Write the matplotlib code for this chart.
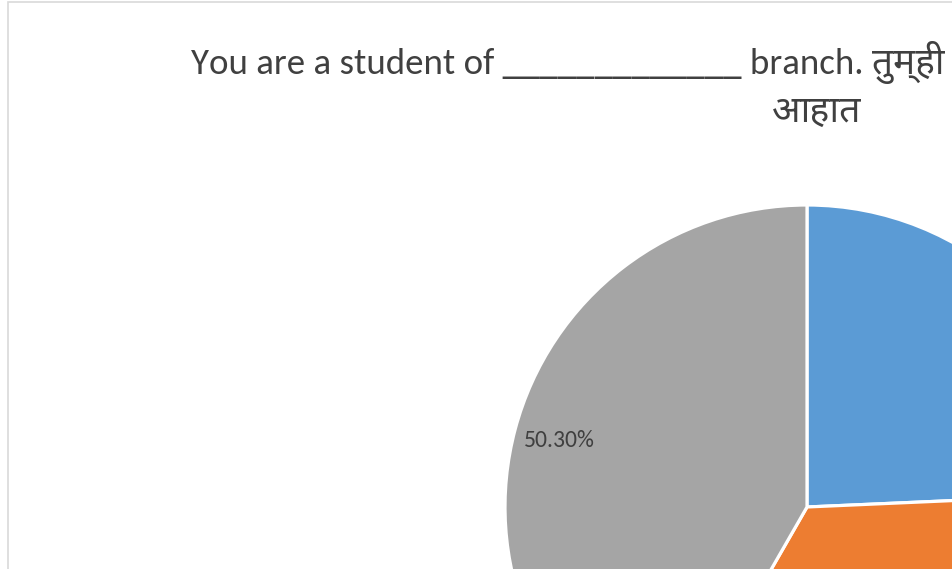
import matplotlib
matplotlib.use("Agg")
import matplotlib.pyplot as plt
import numpy as np
from matplotlib.patches import Rectangle

# slice shares as they appear in the chart (clockwise from 12 o'clock)
shares = [24.3, 34.0, 41.7]
# only the grey slice's label falls inside the visible area
pct_labels = [None, None, "50.30%"]
colors = ["#5B9BD5", "#ED7D31", "#A5A5A5"]

title_line1 = "You are a student of _____________ branch. तुम्ही _____________ शाखेचे विद्यार्थी"
title_line2 = "आहात"

plt.rcParams["font.family"] = ["Carlito", "Noto Sans Devanagari", "Mukta", "DejaVu Sans"]

W, H = 953, 569
fig = plt.figure(figsize=(W / 100, H / 100), dpi=100)

# chart area frame (light grey border, cropped at right/bottom)
fig.patches.append(Rectangle((8.5 / W, -0.1), 1.2, 1 - 2.5 / H + 0.1,
                             transform=fig.transFigure, fill=False,
                             edgecolor="#D9D9D9", linewidth=1.2, clip_on=False))

# pie: centre at (807, 507) px, radius 302 px
R, cx, cy = 302.0, 807.0, 507.0
ax = fig.add_axes([0, 0, 1, 1])
ax.axis("off")

wedges, _ = ax.pie(shares, colors=colors, startangle=90, counterclock=False,
                   radius=1.0, wedgeprops=dict(edgecolor="white", linewidth=2.3))
ax.set_xlim(-cx / R, (W - cx) / R)
ax.set_ylim(-(H - cy) / R, cy / R)

for w, lab in zip(wedges, pct_labels):
    if lab is None:
        continue
    mid = np.deg2rad((w.theta1 + w.theta2) / 2)
    ax.text(0.85 * np.cos(mid), 0.85 * np.sin(mid), lab, ha="center", va="center",
            fontsize=17, color="#404040")

fig.text(191 / W, 1 - 73.5 / H, title_line1, ha="left", va="baseline",
         fontsize=26.6, color="#404040")
fig.text(817 / W, 1 - 122 / H, title_line2, ha="center", va="baseline",
         fontsize=27, color="#404040")

fig.savefig("out.png", dpi=100)
